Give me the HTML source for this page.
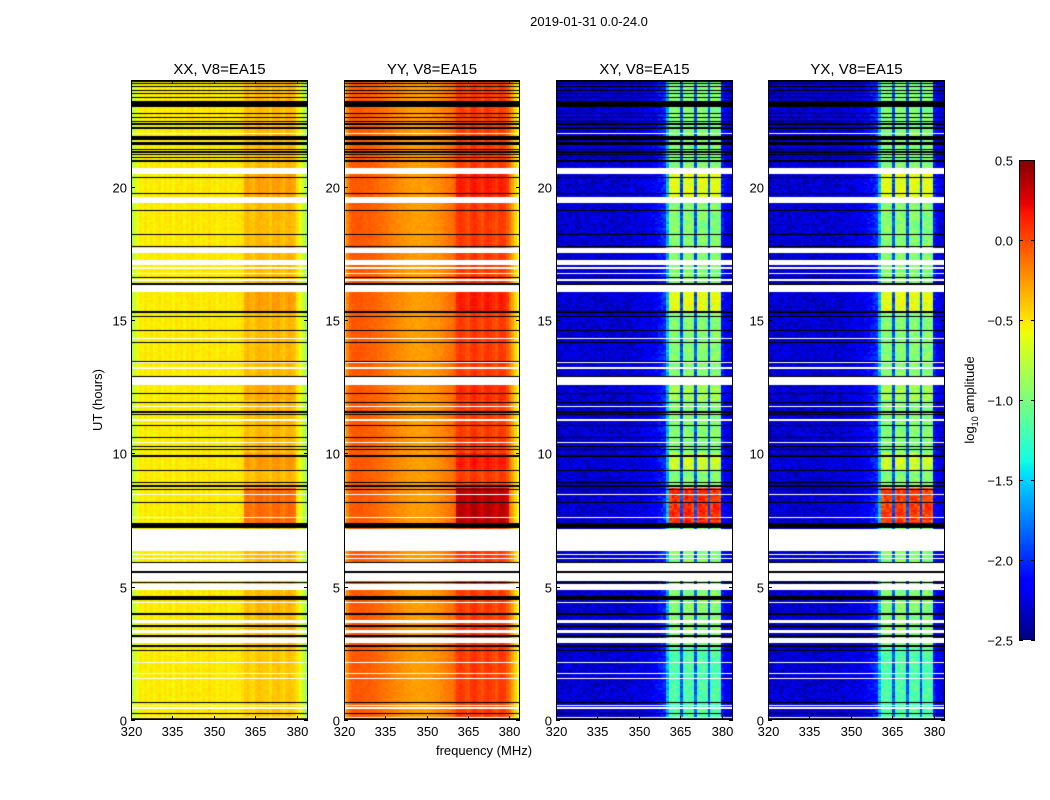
<!DOCTYPE html>
<html><head><meta charset="utf-8">
<style>
html,body{margin:0;padding:0;background:#fff;}
#fig{position:relative;width:1050px;height:800px;overflow:hidden;background:#fff;font-family:"Liberation Sans","DejaVu Sans",sans-serif;}
canvas{position:absolute;}
svg{position:absolute;left:0;top:0;}
</style></head>
<body>
<div id="fig">
<canvas id="c0" width="177" height="640" style="left:131px;top:80px"></canvas>
<canvas id="c1" width="176" height="640" style="left:344px;top:80px"></canvas>
<canvas id="c2" width="177" height="640" style="left:556px;top:80px"></canvas>
<canvas id="c3" width="177" height="640" style="left:768px;top:80px"></canvas>
<canvas id="cb" width="16" height="480" style="left:1019px;top:160px"></canvas>
<svg id="ov" width="1050" height="800"></svg>
</div>
<script>
// ---- data ----
const channels = []; for (let f = 320; f < 384; f++) channels.push(f); // MHz
const panelTitles = ["XX, V8=EA15","YY, V8=EA15","XY, V8=EA15","YX, V8=EA15"];
const specXX = [-0.85,-0.7,-0.6,-0.52,-0.55,-0.5,-0.54,-0.5,-0.56,-0.52,
 -0.5,-0.55,-0.5,-0.53,-0.5,-0.56,-0.5,-0.52,-0.5,-0.55,
 -0.5,-0.52,-0.48,-0.53,-0.5,-0.55,-0.5,-0.52,-0.48,-0.53,
 -0.5,-0.54,-0.5,-0.52,-0.48,-0.53,-0.5,-0.52,-0.5,-0.5,
 -0.48,-0.38,-0.35,-0.4,-0.42,-0.36,-0.33,-0.35,-0.38,-0.36,
 -0.42,-0.34,-0.36,-0.33,-0.38,-0.42,-0.35,-0.33,-0.36,-0.4,
 -0.5,-0.6,-0.75,-0.9];
const specYY = [-0.4,-0.2,-0.08,-0.05,-0.04,-0.05,-0.04,-0.06,-0.07,-0.06,
 -0.08,-0.09,-0.1,-0.11,-0.13,-0.14,-0.16,-0.17,-0.19,-0.2,
 -0.22,-0.22,-0.24,-0.25,-0.26,-0.27,-0.27,-0.27,-0.27,-0.27,
 -0.26,-0.25,-0.24,-0.23,-0.22,-0.2,-0.18,-0.16,-0.14,-0.12,
 -0.06,0.03,0.06,0.04,0.0,-0.03,0.06,0.09,0.04,0.02,
 -0.03,0.05,0.08,0.05,0.01,-0.03,0.05,0.06,0.03,-0.05,
 -0.15,-0.3,-0.45,-0.6];
const specXY = [-2.25,-2.3,-2.3,-2.28,-2.3,-2.3,-2.25,-2.3,-2.3,-2.28,
 -2.3,-2.3,-2.28,-2.3,-2.3,-2.28,-2.3,-2.3,-2.28,-2.3,
 -2.3,-2.28,-2.3,-2.28,-2.3,-2.28,-2.3,-2.28,-2.25,-2.28,
 -2.25,-2.25,-2.22,-2.22,-2.2,-2.18,-2.15,-2.1,-2.05,-2.0,
 -1.6,-1.0,-0.95,-0.95,-1.0,-1.9,-1.0,-0.95,-0.95,-1.0,
 -1.9,-1.0,-0.95,-0.95,-1.0,-1.9,-1.0,-0.95,-0.95,-1.05,
 -2.1,-2.2,-2.25,-2.3];
const specYX = [-2.25,-2.3,-2.3,-2.28,-2.3,-2.3,-2.25,-2.3,-2.3,-2.28,
 -2.3,-2.3,-2.28,-2.3,-2.3,-2.28,-2.3,-2.3,-2.28,-2.3,
 -2.3,-2.28,-2.3,-2.28,-2.3,-2.28,-2.3,-2.28,-2.25,-2.28,
 -2.25,-2.25,-2.22,-2.22,-2.2,-2.18,-2.15,-2.1,-2.05,-2.0,
 -1.6,-1.0,-0.95,-0.95,-1.0,-1.9,-1.0,-0.95,-0.95,-1.0,
 -1.9,-1.0,-0.95,-0.95,-1.0,-1.9,-1.0,-0.95,-0.95,-1.05,
 -2.1,-2.2,-2.25,-2.3];
// time-dependent boosts of band channels (361-379 MHz)
const boostStart = [7.3, 19.4, 15.3, 0.0, 9.4, 12.0];
const boostEnd   = [8.7, 20.5, 16.1, 2.7, 10.0, 12.8];
const boostXX = [0.25, 0.08, 0.08, -0.05, 0.1, 0.05];
const boostYY = [0.3, 0.1, 0.1, 0.0, 0.1, 0.05];
const boostXY = [1.05, 0.35, 0.35, -0.2, 0.25, 0.12];
const boostYX = [1.0, 0.35, 0.35, -0.2, 0.25, 0.12];
// flagged (white) intervals, hours
const whiteStart = [21.98,20.47,19.39,17.5,17.06,16.93,16.74,16.59,16.48,16.05,14.3,13.37,13.18,12.56,11.75,11.23,10.37,8.42,7.59,6.34,6.17,6.05,5.55,5.21,4.87,4.4,3.64,3.26,2.89,2.12,1.74,1.55,0.54,0.43,0.09];
const whiteEnd   = [22.03,20.7,19.61,17.7,17.25,16.97,16.78,16.63,16.52,16.35,14.34,13.41,13.22,12.86,11.79,11.27,10.41,8.46,7.63,7.16,6.21,6.09,5.89,5.51,5.1,4.44,3.75,3.37,3.07,2.16,1.78,1.59,0.58,0.47,0.13];
// black gap lines, hours
const blackStart = [23.93,23.84,23.72,23.57,23.49,23.34,22.99,22.74,22.59,22.44,22.33,22.18,21.75,21.65,21.58,21.39,21.28,21.2,21.09,20.92,20.34,19.74,19.07,18.17,17.72,16.59,16.33,15.26,15.11,14.57,14.12,13.44,12.86,12.24,11.9,11.53,11.45,11.04,10.59,10.22,10.14,9.88,9.35,8.87,8.79,8.72,8.64,8.15,7.2,5.9,5.53,5.15,4.5,3.94,3.54,3.47,3.13,2.74,2.6,0.65,0.24,0.03];
const blackEnd   = [24.0,23.89,23.76,23.61,23.53,23.38,23.21,22.78,22.63,22.48,22.37,22.22,21.9,21.69,21.62,21.43,21.32,21.24,21.13,21.0,20.38,19.78,19.11,18.21,17.76,16.63,16.37,15.34,15.15,14.61,14.16,13.48,12.9,12.28,11.94,11.57,11.49,11.08,10.63,10.26,10.18,9.92,9.39,8.91,8.83,8.76,8.68,8.19,7.39,5.94,5.57,5.19,4.65,4.01,3.58,3.51,3.17,2.81,2.64,0.69,0.28,0.07];
const xTicks = [320,335,350,365,380];
const yTicks = [0,5,10,15,20];
const cbTicks = [0.5,0.0,-0.5,-1.0,-1.5,-2.0,-2.5];

// ---- scales ----
const F0 = 320, F1 = 384, H0 = 0, H1 = 24, VMIN = -2.5, VMAX = 0.5;
const panelX = [131,344,556,768], panelW = [177,176,177,177], PT = 80, PH = 640;
function xScale(p, f){ return panelX[p] + (f - F0) / (F1 - F0) * panelW[p]; }
function yScale(h){ return PT + PH - (h - H0) / (H1 - H0) * PH; }

function jet(v){
  let t = (v - VMIN) / (VMAX - VMIN); t = Math.max(0, Math.min(1, t));
  let r, g, b;
  r = t < 0.35 ? 0 : t < 0.66 ? (t - 0.35) / 0.31 : t < 0.89 ? 1 : 1 - 0.5 * (t - 0.89) / 0.11;
  g = t < 0.125 ? 0 : t < 0.375 ? (t - 0.125) / 0.25 : t < 0.64 ? 1 : t < 0.91 ? 1 - (t - 0.64) / 0.27 : 0;
  b = t < 0.11 ? 0.5 + t / 0.11 * 0.5 : t < 0.34 ? 1 : t < 0.65 ? 1 - (t - 0.34) / 0.31 : 0;
  return 'rgb(' + Math.round(r*255) + ',' + Math.round(g*255) + ',' + Math.round(b*255) + ')';
}
function texture(i, j){ let s = Math.sin(i * 12.9898 + j * 78.233) * 43758.5453; return (s - Math.floor(s)) * 2 - 1; }

const specs = [specXX, specYY, specXY, specYX];
const boosts = [boostXX, boostYY, boostXY, boostYX];
const noiseAmp = [0.03, 0.03, 0.12, 0.12];

function inIntervals(h, a, b){ for (let k = 0; k < a.length; k++) if (h >= a[k] && h <= b[k]) return true; return false; }

for (let p = 0; p < 4; p++){
  const ctx = document.getElementById('c' + p).getContext('2d');
  const W = panelW[p];
  for (let row = 0; row < PH; row++){
    const h = H1 - (row + 0.5) / PH * (H1 - H0);
    if (inIntervals(h, blackStart, blackEnd)){ ctx.fillStyle = '#000'; ctx.fillRect(0, row, W, 1); continue; }
    if (inIntervals(h, whiteStart, whiteEnd)){ ctx.fillStyle = '#fff'; ctx.fillRect(0, row, W, 1); continue; }
    let bst = 0;
    for (let k = 0; k < boostStart.length; k++) if (h >= boostStart[k] && h <= boostEnd[k]) bst += boosts[p][k];
    for (let c = 0; c < channels.length; c++){
      const f = channels[c];
      let v = specs[p][c] + noiseAmp[p] * texture(c, Math.floor(row / 2));
      const inBand = f >= 361 && f <= 379 && (p < 2 || specs[p][c] > -1.5);
      if (inBand) v += bst;
      const x0 = xScale(p, f) - panelX[p], x1 = xScale(p, f + 1) - panelX[p];
      ctx.fillStyle = jet(v);
      ctx.fillRect(Math.floor(x0), row, Math.ceil(x1) - Math.floor(x0), 1);
    }
  }
}
// colorbar
(function(){
  const ctx = document.getElementById('cb').getContext('2d');
  for (let r = 0; r < 480; r++){ const v = VMAX - (r + 0.5) / 480 * (VMAX - VMIN); ctx.fillStyle = jet(v); ctx.fillRect(0, r, 16, 1); }
})();

// ---- overlay ----
const NS = 'http://www.w3.org/2000/svg';
const ov = document.getElementById('ov');
function mk(tag, attrs, txt){ const e = document.createElementNS(NS, tag); for (const k in attrs) e.setAttribute(k, attrs[k]); if (txt !== undefined) e.textContent = txt; ov.appendChild(e); return e; }
function fmt(v){ return (v < 0 ? '\u2212' : '') + Math.abs(v).toFixed(1); }

let t = mk('text', {x:589, y:26, 'font-size':13, 'text-anchor':'middle', fill:'#000'}, '2019-01-31 0.0-24.0');



for (let p = 0; p < 4; p++){
  const L = panelX[p], W = panelW[p];
  const fr = mk('rect', {x:L + 0.5, y:PT + 0.5, width:W - 1, height:PH - 1, fill:'none', stroke:'#000', 'stroke-width':1});
  
  
  const ti = mk('text', {x:L + W / 2, y:74, 'font-size':15, 'text-anchor':'middle', fill:'#000'}, panelTitles[p]);
  
  
  xTicks.forEach(f => {
    const x = Math.round(xScale(p, f)) + 0.5;
    mk('line', {x1:x, y1:PT + PH, x2:x, y2:PT + PH - 4, stroke:'#000'});
    mk('line', {x1:x, y1:PT, x2:x, y2:PT + 4, stroke:'#000'});
    const lb = mk('text', {x:x, y:PT + PH + 16, 'font-size':13, 'text-anchor':'middle', fill:'#000'}, String(f));
    
    
  });
  yTicks.forEach(h => {
    const y = Math.round(yScale(h)) + 0.5;
    mk('line', {x1:L, y1:y, x2:L + 4, y2:y, stroke:'#000'});
    mk('line', {x1:L + W, y1:y, x2:L + W - 4, y2:y, stroke:'#000'});
    const lb = mk('text', {x:L - 4, y:y + 5, 'font-size':13, 'text-anchor':'end', fill:'#000'}, String(h));
    
    
  });
}
let yl = mk('text', {x:0, y:0, 'font-size':13, 'text-anchor':'middle', fill:'#000', transform:'translate(102,400) rotate(-90)'}, 'UT (hours)');


let xl = mk('text', {x:484, y:755, 'font-size':13, 'text-anchor':'middle', fill:'#000'}, 'frequency (MHz)');



// colorbar axis
let cbf = mk('rect', {x:1019.5, y:160.5, width:15, height:479, fill:'none', stroke:'#000'});


cbTicks.forEach(v => {
  const y = Math.round(160 + (VMAX - v) / (VMAX - VMIN) * 480) + 0.5;
  mk('line', {x1:1019, y1:y, x2:1023, y2:y, stroke:'#000'});
  mk('line', {x1:1035, y1:y, x2:1031, y2:y, stroke:'#000'});
  const lb = mk('text', {x:1013, y:y + 5, 'font-size':13, 'text-anchor':'end', fill:'#000'}, fmt(v));
  
  
});
let cl = mk('text', {x:0, y:0, 'font-size':13, 'text-anchor':'middle', fill:'#000', transform:'translate(974,400) rotate(-90)'});


const s1 = document.createElementNS(NS, 'tspan'); s1.textContent = 'log'; cl.appendChild(s1);
const s2 = document.createElementNS(NS, 'tspan'); s2.setAttribute('font-size', '9'); s2.setAttribute('dy', '4'); s2.textContent = '10'; cl.appendChild(s2);
const s3 = document.createElementNS(NS, 'tspan'); s3.setAttribute('dy', '-4'); s3.textContent = ' amplitude'; cl.appendChild(s3);
</script>
</body></html>
